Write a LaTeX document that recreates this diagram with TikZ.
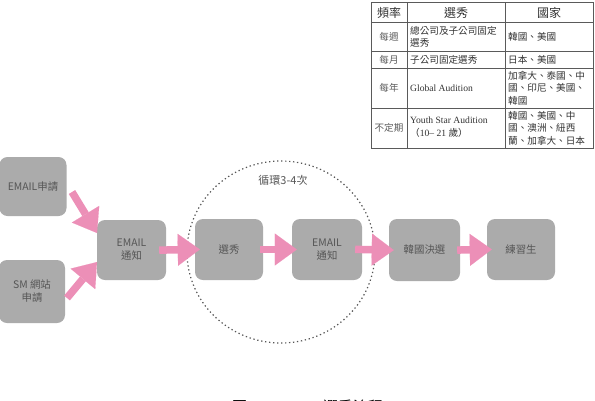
\documentclass[tikz,border=0pt]{standalone}
\usepackage{fontspec}
\setmainfont{Liberation Serif}
\newfontfamily\cjk{Noto Sans CJK TC}
\usetikzlibrary{arrows.meta}
\definecolor{boxgray}{RGB}{171,171,171}
\definecolor{boxtext}{RGB}{85,85,85}
\definecolor{arrowpink}{RGB}{236,143,183}
\definecolor{tabline}{RGB}{90,90,90}
\definecolor{tabtext}{RGB}{50,50,50}
\tikzset{
  stepbox/.style={fill=boxgray, rounded corners=8pt, text=boxtext, align=center,
    font=\cjk\fontsize{10.4}{13}\selectfont, inner sep=0pt},
  bigarrow/.style={draw=arrowpink, line width=7.5pt,
    -{Triangle[length=22pt,width=32pt,line width=0.1pt,fill=arrowpink,color=arrowpink]}},
  tline/.style={draw=tabline, line width=0.6pt},
  thead/.style={text=tabtext, font=\cjk\fontsize{12}{14}\selectfont, inner sep=0pt},
  tcell/.style={text=tabtext, font=\cjk\fontsize{9.6}{12.5}\selectfont, inner sep=0pt, align=left},
  tcellr/.style={text=tabtext, font=\fontsize{9.6}{12.5}\selectfont, inner sep=0pt, align=left},
  tfirst/.style={text=tabtext!80, font=\cjk\fontsize{9.6}{12.5}\selectfont, inner sep=0pt},
  loopring/.style={draw=boxtext, line width=1.2pt, dash pattern=on 1.3pt off 2.7pt},
  caption/.style={text=black, font=\cjk\fontsize{15}{17}\selectfont, inner sep=0pt, anchor=base west}
}
\begin{document}
\begin{tikzpicture}[x=1pt,y=-1pt]
\useasboundingbox (0,0) rectangle (595,400);
\clip (0,0) rectangle (595,400);

% ---------- table ----------
\draw[tline] (371,2.5) rectangle (593,148);
\foreach \yy in {22,51.5,68,108} \draw[tline] (371,\yy) -- (593,\yy);
\draw[tline] (407,2.5) -- (407,148);
\draw[tline] (505,2.5) -- (505,148);

\node[thead] (h1) at (389,12.5) {頻率};
\node[thead] (h2) at (456,12.5) {選秀};
\node[thead] (h3) at (549,12.5) {國家};

\node[tfirst] (r1a) at (389,37) {每週};
\node[tcell, anchor=west] (r1b) at (410,37) {總公司及子公司固定\\選秀};
\node[tcell, anchor=west] (r1c) at (508,37) {韓國、美國};

\node[tfirst] (r2a) at (389,60) {每月};
\node[tcell, anchor=west] (r2b) at (410,60) {子公司固定選秀};
\node[tcell, anchor=west] (r2c) at (508,60) {日本、美國};

\node[tfirst] (r3a) at (389,88) {每年};
\node[tcellr, anchor=west] (r3b) at (410,88) {Global Audition};
\node[tcell, anchor=west] (r3c) at (508,88) {加拿大、泰國、中\\國、印尼、美國、\\韓國};

\node[tfirst] (r4a) at (389,128) {不定期};
\node[tcellr, anchor=west] (r4b) at (410,127) {Youth Star Audition\\{\cjk （}10– 21 {\cjk 歲）}};
\node[tcell, anchor=west] (r4c) at (508,128) {韓國、美國、中\\國、澳洲、紐西\\蘭、加拿大、日本};

% ---------- loop ellipse ----------
\draw[loopring] (281,252) ellipse [x radius=94, y radius=91];
\node[text=boxtext, font=\cjk\fontsize{11}{13}\selectfont] (looplabel) at (283,180) {循環3-4次};

% ---------- boxes ----------
\node[stepbox, minimum width=67pt, minimum height=59pt] (e1) at (33,186.5) {EMAIL申請};
\node[stepbox, minimum width=66pt, minimum height=63pt] (e2) at (32,291.5) {SM 網站\\申請};
\node[stepbox, minimum width=69pt, minimum height=60pt] (n1) at (131.5,250) {EMAIL\\通知};
\node[stepbox, minimum width=68pt, minimum height=61pt] (s1) at (229,249.5) {選秀};
\node[stepbox, minimum width=70pt, minimum height=61pt] (n2) at (327,249.5) {EMAIL\\通知};
\node[stepbox, minimum width=71pt, minimum height=62pt] (k1) at (424.5,250) {韓國決選};
\node[stepbox, minimum width=68pt, minimum height=61pt] (t1) at (521,249.5) {練習生};

% ---------- arrows ----------
\coordinate (a1s) at (72,192);
\coordinate (a1e) at (97,233);
\coordinate (a2s) at (67,298);
\coordinate (a2e) at (97,262);
\draw[bigarrow] (a1s) -- (a1e);
\draw[bigarrow] (a2s) -- (a2e);
\draw[bigarrow, shorten <=-7pt, shorten >=-5pt] (n1.east) -- (s1.west);
\draw[bigarrow, shorten <=-3pt, shorten >=-5pt] (s1.east) -- (n2.west);
\draw[bigarrow, shorten <=-7pt, shorten >=-5pt] (n2.east) -- (k1.west);
\draw[bigarrow, shorten <=-3pt, shorten >=-5pt] (k1.east) -- (t1.west);

% ---------- caption (cut off at bottom, as in the reference) ----------
\node[caption] (cap1) at (232,412) {圖};
\node[caption] (cap2) at (323,412) {選秀流程};
\end{tikzpicture}
\end{document}
